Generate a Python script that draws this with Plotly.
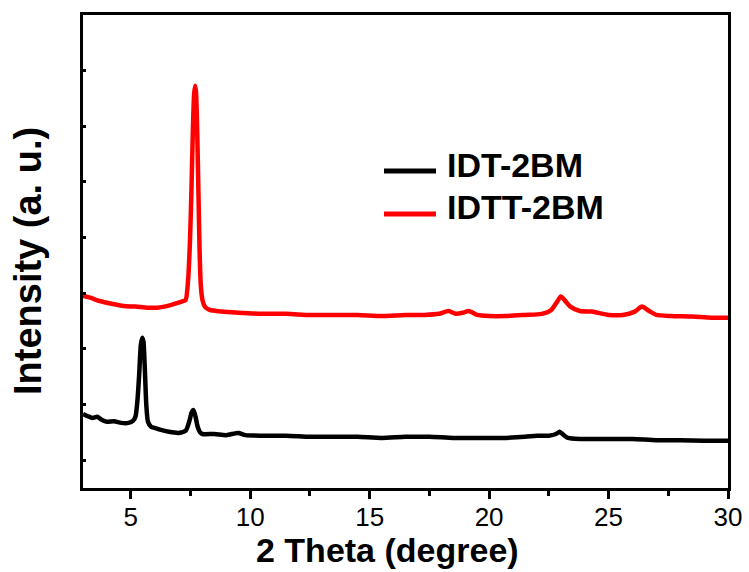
import plotly.graph_objects as go

# IDT-2BM (black) : 2-theta (deg) and intensity (a.u.)
idt_x = [3.0, 3.2, 3.4, 3.6, 3.8, 4.0, 4.3, 4.6, 4.9, 5.1, 5.2, 5.28, 5.35, 5.42, 5.48,
         5.53, 5.59, 5.65, 5.72, 5.85, 6.0, 6.3, 6.6, 7.0, 7.3, 7.45, 7.55, 7.62, 7.7,
         7.8, 7.9, 8.0, 8.5, 9.0, 9.5, 9.8, 10.5, 11.5, 12.5, 13.5, 14.5, 15.5, 16.5,
         17.5, 18.5, 19.5, 20.5, 21.5, 22.0, 22.5, 22.8, 22.95, 23.1, 23.3, 23.8, 25.0,
         26.0, 27.0, 28.0, 29.0, 30.0]
idt_y = [1.33, 1.29, 1.26, 1.28, 1.22, 1.19, 1.20, 1.17, 1.17, 1.21, 1.29, 1.58, 2.03, 2.57, 2.70,
         2.63, 2.12, 1.49, 1.19, 1.10, 1.08, 1.04, 1.01, 0.99, 1.03, 1.20, 1.36, 1.40, 1.30,
         1.10, 1.00, 0.97, 0.97, 0.95, 0.99, 0.95, 0.94, 0.94, 0.92, 0.92, 0.92, 0.90, 0.92,
         0.92, 0.90, 0.90, 0.90, 0.92, 0.94, 0.94, 0.97, 1.01, 0.96, 0.90, 0.88, 0.88,
         0.88, 0.86, 0.86, 0.85, 0.85]

# IDTT-2BM (red)
idtt_x = [3.0, 3.3, 3.7, 4.2, 4.7, 5.2, 5.7, 6.1, 6.4, 6.7, 7.0, 7.2, 7.3, 7.4, 7.48, 7.54,
          7.6, 7.65, 7.69, 7.73, 7.78, 7.83, 7.88, 7.93, 8.0, 8.1, 8.3, 8.8, 9.5, 10.5,
          11.5, 12.5, 13.5, 14.5, 15.5, 16.5, 17.3, 17.9, 18.3, 18.6, 18.9, 19.15, 19.5,
          20.0, 20.7, 21.5, 22.2, 22.6, 22.85, 23.0, 23.15, 23.4, 23.8, 24.3, 25.0, 25.6,
          26.1, 26.4, 26.7, 27.0, 27.6, 28.5, 29.3, 30.0]
idtt_y = [3.45, 3.42, 3.36, 3.31, 3.27, 3.26, 3.24, 3.24, 3.26, 3.29, 3.33, 3.36, 3.38, 3.74, 4.46, 5.36,
          6.44, 7.07, 7.23, 7.12, 6.44, 5.36, 4.28, 3.65, 3.38, 3.26, 3.20, 3.17, 3.15, 3.13,
          3.13, 3.11, 3.11, 3.11, 3.09, 3.11, 3.11, 3.13, 3.18, 3.13, 3.15, 3.18, 3.11,
          3.09, 3.09, 3.11, 3.13, 3.20, 3.35, 3.44, 3.38, 3.26, 3.18, 3.17, 3.11, 3.11,
          3.17, 3.26, 3.18, 3.11, 3.09, 3.08, 3.06, 3.06]

x_ticks = [5, 10, 15, 20, 25, 30]
legend_names = ["IDT-2BM", "IDTT-2BM"]
colors = ["black", "#ff0000"]

FONT = "Liberation Sans, Arial, sans-serif"

fig = go.Figure()
fig.add_trace(go.Scatter(x=idt_x, y=idt_y, mode="lines", name=legend_names[0],
                         line=dict(color=colors[0], width=4.5, shape="spline", smoothing=0.6),
                         showlegend=False))
fig.add_trace(go.Scatter(x=idtt_x, y=idtt_y, mode="lines", name=legend_names[1],
                         line=dict(color=colors[1], width=4.5, shape="spline", smoothing=0.6),
                         showlegend=False))

W, H = 749, 572
L, R, T, B = 83, 728, 15, 488
pw, ph = R - L, B - T

def px(x):
    return (x - L) / pw

def py(y):
    return (B - y) / ph

shapes = []
annotations = []
leg_rows = [(171, 165), (214, 207)]
for (ly, ty), name, col in zip(leg_rows, legend_names, colors):
    shapes.append(dict(type="line", xref="paper", yref="paper",
                       x0=px(384), x1=px(436), y0=py(ly), y1=py(ly),
                       line=dict(color=col, width=5)))
    annotations.append(dict(xref="paper", yref="paper", x=px(445), y=py(ty),
                            xanchor="left", yanchor="middle", showarrow=False,
                            text="<b>%s</b>" % name,
                            font=dict(family=FONT, size=34, color="black")))

annotations.append(dict(xref="paper", yref="paper", x=px(387), y=py(550),
                        xanchor="center", yanchor="middle", showarrow=False,
                        text="<b>2 Theta (degree)</b>",
                        font=dict(family=FONT, size=34, color="black")))
annotations.append(dict(xref="paper", yref="paper", x=px(28), y=py(261),
                        xanchor="center", yanchor="middle", showarrow=False,
                        textangle=-90, text="<b>Intensity (a. u.)</b>",
                        font=dict(family=FONT, size=38, color="black")))

fig.update_layout(
    width=W, height=H, autosize=False,
    margin=dict(l=L, r=W - R, t=T, b=H - B, pad=0, autoexpand=False),
    paper_bgcolor="white", plot_bgcolor="white",
    shapes=shapes, annotations=annotations,
    font=dict(family=FONT, color="black"),
)
fig.update_xaxes(
    range=[3, 30], tickvals=x_ticks, ticktext=[str(v) for v in x_ticks],
    showgrid=False, zeroline=False, automargin=False,
    showline=True, linecolor="black", linewidth=3, mirror=True,
    ticks="outside", ticklen=8, tickwidth=2.5, tickcolor="black",
    ticklabelstandoff=-4,
    tickfont=dict(family=FONT, size=26, color="black"),
    minor=dict(tickvals=[7.5, 12.5, 17.5, 22.5, 27.5], ticks="outside",
               ticklen=5, tickwidth=2.5, tickcolor="black"),
)
fig.update_yaxes(
    range=[0, 8.5], tick0=0.5, dtick=1, showticklabels=False,
    showgrid=False, zeroline=False, automargin=False,
    showline=True, linecolor="black", linewidth=3, mirror=True,
    ticks="inside", ticklen=3, tickwidth=2.5, tickcolor="black",
)

fig.write_html(
    "out.html",
    config={"displayModeBar": False, "responsive": False},
    post_script="document.body.style.margin='0';document.body.style.overflow='hidden';",
)
